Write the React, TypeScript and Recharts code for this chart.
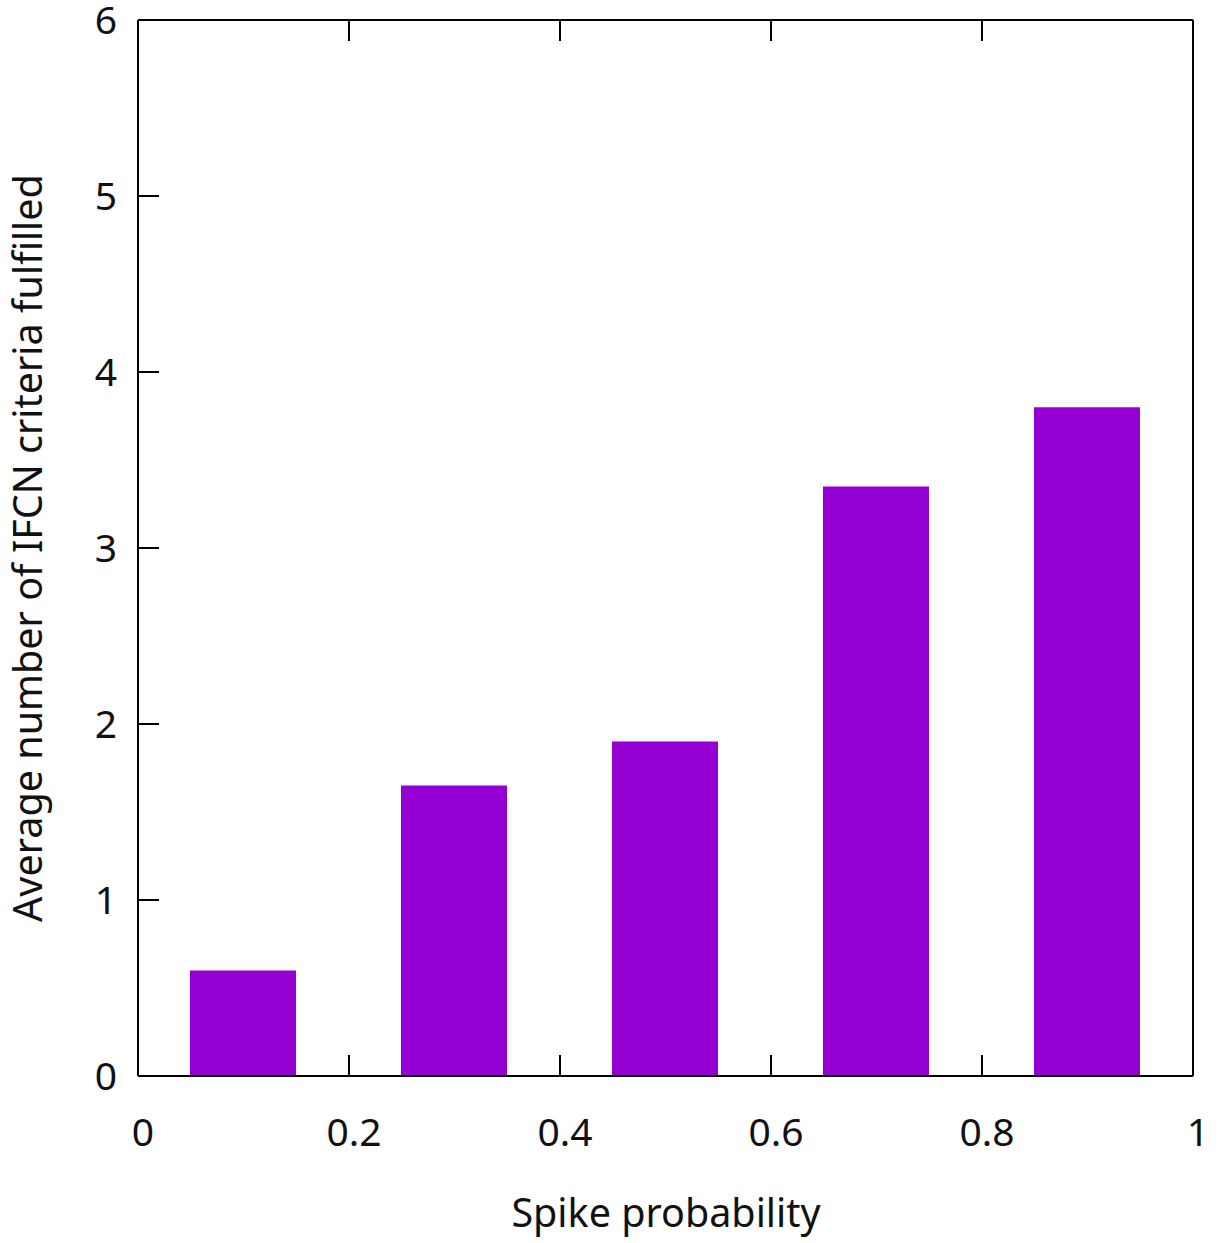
import React from 'react';
import { BarChart, Bar, XAxis, YAxis } from 'recharts';

// spike probability bins (bar centres) and mean criteria fulfilled
const spikeProbability = [0.1, 0.3, 0.5, 0.7, 0.9];
const avgCriteria = [0.6, 1.65, 1.9, 3.35, 3.8];
const xTicks = [0, 0.2, 0.4, 0.6, 0.8, 1];
const yTicks = [0, 1, 2, 3, 4, 5, 6];

const data = spikeProbability.map((p, i) => ({ p, value: avgCriteria[i] }));

const FONT = '"Noto Sans", "Open Sans", sans-serif';
const TICK_LEN = 21;
const BAR_COLOR = '#9400D3';

const fmt = (v: number) => String(Math.round(v * 10) / 10);

const BottomTick = (props: any) => {
    const { x, y, payload } = props;
    const edge = payload.value === 0 || payload.value === 1;
    return (
        <g>
            {!edge && <line x1={x} y1={y} x2={x} y2={y - TICK_LEN} stroke="#000" strokeWidth={2} />}
            <text x={x + 5} y={y + 70} textAnchor="middle" fontSize={39} fontFamily={FONT} fill="#111">
                {fmt(payload.value)}
            </text>
        </g>
    );
};

const TopTick = (props: any) => {
    const { x, y, payload } = props;
    if (payload.value === 0 || payload.value === 1) return <g />;
    return <line x1={x} y1={y} x2={x} y2={y + TICK_LEN} stroke="#000" strokeWidth={2} />;
};

const LeftTick = (props: any) => {
    const { x, y, payload } = props;
    const edge = payload.value === 0 || payload.value === 6;
    return (
        <g>
            {!edge && <line x1={x} y1={y} x2={x + TICK_LEN} y2={y} stroke="#000" strokeWidth={2} />}
            <text x={x - 21} y={y + 14} textAnchor="end" fontSize={39} fontFamily={FONT} fill="#111">
                {fmt(payload.value)}
            </text>
        </g>
    );
};

const RightTick = (props: any) => {
    const { x, y, payload } = props;
    if (payload.value === 0 || payload.value === 6) return <g />;
    return <line x1={x} y1={y} x2={x - TICK_LEN} y2={y} stroke="#000" strokeWidth={2} />;
};

const XTitle = () => (
    <text x={666} y={1227} textAnchor="middle" fontSize={39.5} fontFamily={FONT} fill="#111">
        Spike probability
    </text>
);

const YTitle = (props: any) => {
    const { viewBox } = props;
    const cy = viewBox.y + viewBox.height / 2;
    return (
        <text x={42} y={cy} transform={`rotate(-90, 42, ${cy})`} textAnchor="middle" fontSize={39.5} fontFamily={FONT} fill="#111">
            Average number of IFCN criteria fulfilled
        </text>
    );
};

export default function App() {
    return (
        <div style={{ position: 'absolute', left: 0, top: 0, width: 1225, height: 1243, background: '#fff' }}>
            <BarChart width={1225} height={1243} data={data} margin={{ top: 19, right: 31, left: 38, bottom: 67 }}>
                <XAxis
                    dataKey="p"
                    type="number"
                    domain={[0, 1]}
                    ticks={xTicks}
                    interval={0}
                    height={100}
                    tickSize={0}
                    tickMargin={0}
                    tickLine={false}
                    axisLine={{ stroke: '#000', strokeWidth: 2 }}
                    tick={<BottomTick />}
                    label={<XTitle />}
                />
                <XAxis
                    xAxisId="top"
                    orientation="top"
                    dataKey="p"
                    type="number"
                    domain={[0, 1]}
                    ticks={xTicks}
                    interval={0}
                    height={1}
                    tickSize={0}
                    tickMargin={0}
                    tickLine={false}
                    axisLine={{ stroke: '#000', strokeWidth: 2 }}
                    tick={<TopTick />}
                />
                <YAxis
                    type="number"
                    domain={[0, 6]}
                    ticks={yTicks}
                    interval={0}
                    width={100}
                    tickSize={0}
                    tickMargin={0}
                    tickLine={false}
                    axisLine={{ stroke: '#000', strokeWidth: 2 }}
                    tick={<LeftTick />}
                    label={<YTitle />}
                />
                <YAxis
                    yAxisId="right"
                    orientation="right"
                    type="number"
                    domain={[0, 6]}
                    ticks={yTicks}
                    interval={0}
                    width={1}
                    tickSize={0}
                    tickMargin={0}
                    tickLine={false}
                    axisLine={{ stroke: '#000', strokeWidth: 2 }}
                    tick={<RightTick />}
                />
                <Bar dataKey="value" fill={BAR_COLOR} barSize={106} isAnimationActive={false} />
            </BarChart>
        </div>
    );
}
